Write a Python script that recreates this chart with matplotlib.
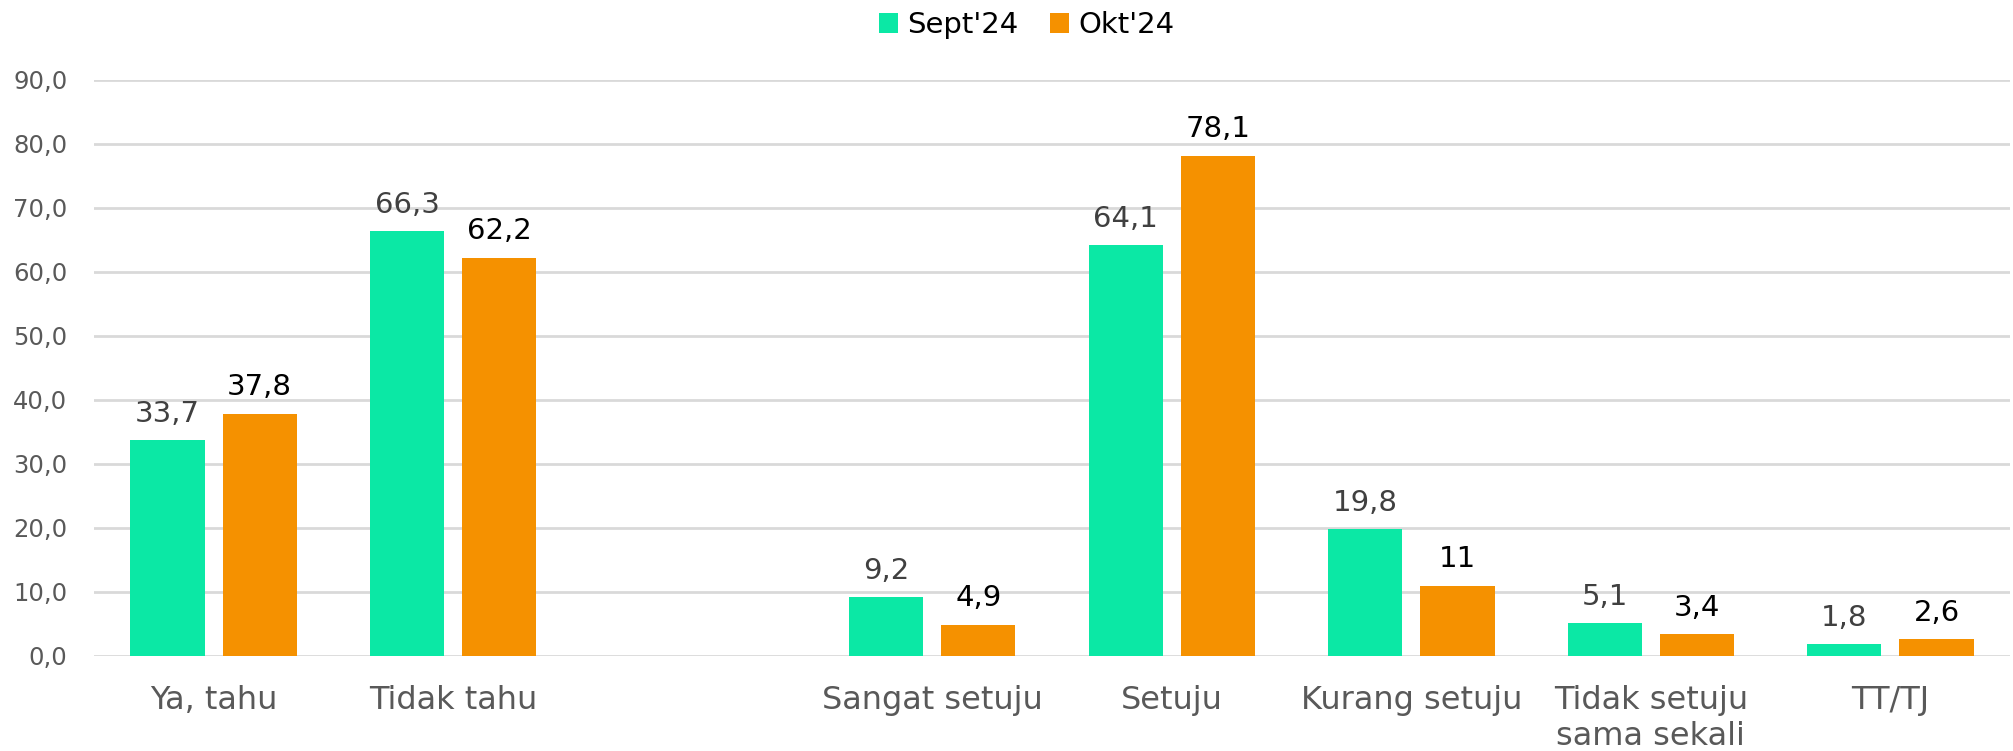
import matplotlib.pyplot as plt
import numpy as np

categories = ['Ya, tahu', 'Tidak tahu', '', 'Sangat setuju', 'Setuju',
              'Kurang setuju', 'Tidak setuju\nsama sekali', 'TT/TJ']
sept = [33.7, 66.3, None, 9.2, 64.1, 19.8, 5.1, 1.8]
okt = [37.8, 62.2, None, 4.9, 78.1, 11, 3.4, 2.6]
sept_labels = ['33,7', '66,3', '', '9,2', '64,1', '19,8', '5,1', '1,8']
okt_labels = ['37,8', '62,2', '', '4,9', '78,1', '11', '3,4', '2,6']
yticks = [0, 10, 20, 30, 40, 50, 60, 70, 80, 90]

plt.rcParams['font.family'] = ['DejaVu Sans']
green = '#0BE8A5'
orange = '#F59100'

fig = plt.figure(figsize=(20.13, 7.51), dpi=100)
ax = fig.add_axes([0.0466, 0.1265, 0.952, 0.7675])

x = np.arange(len(categories))
w = 0.31
off = 0.1925
sv = [v if v is not None else 0 for v in sept]
ov = [v if v is not None else 0 for v in okt]
ax.bar(x - off, sv, w, color=green, label="Sept'24", zorder=3)
ax.bar(x + off, ov, w, color=orange, label="Okt'24", zorder=3)

for i in range(len(categories)):
    if sept[i] is None:
        continue
    ax.annotate(sept_labels[i], (x[i] - off, sv[i]), xytext=(0, 9), textcoords='offset points',
                ha='center', va='bottom', fontsize=21, color='#404040')
    ax.annotate(okt_labels[i], (x[i] + off, ov[i]), xytext=(0, 9), textcoords='offset points',
                ha='center', va='bottom', fontsize=21, color='black')

ax.set_xlim(-0.5, len(categories) - 0.5)
ax.set_ylim(0, 90)
ax.set_yticks(yticks)
ax.set_yticklabels([f'{t:.1f}'.replace('.', ',') for t in yticks], fontsize=17.5, color='#595959')
ax.set_xticks(x)
ax.set_xticklabels(categories, fontsize=23, color='#595959', va='top', linespacing=1.2)
ax.tick_params(axis='both', length=0)
ax.tick_params(axis='x', pad=21)
ax.tick_params(axis='y', pad=19)
ax.yaxis.grid(True, color='#d9d9d9', linewidth=2, zorder=0)
for s in ax.spines.values():
    s.set_visible(False)

fig.legend(loc='upper center', bbox_to_anchor=(0.51, 1.02), ncol=2, frameon=False,
           fontsize=21, handlelength=0.65, handleheight=0.65, handletextpad=0.3,
           columnspacing=1.1)

fig.savefig('out.png', dpi=100)
